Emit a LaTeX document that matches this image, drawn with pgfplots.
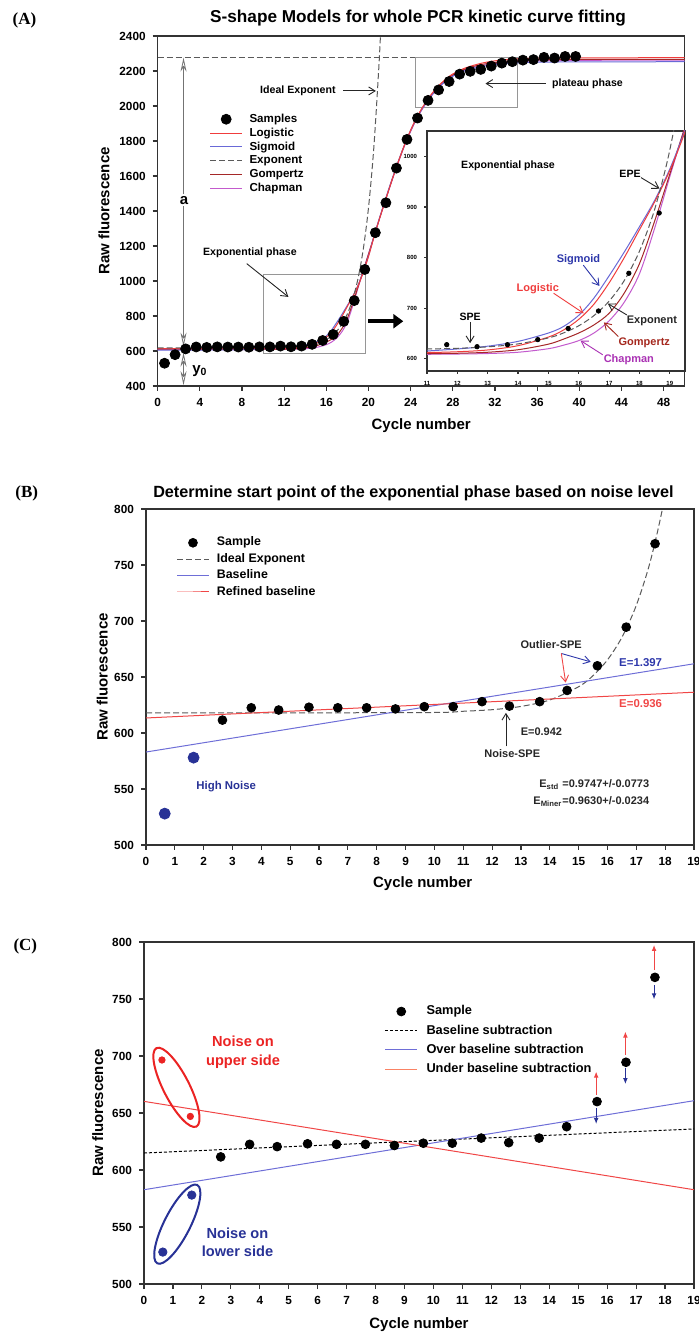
\documentclass[border=0pt]{standalone}
\usepackage{fontspec}
\setmainfont{Liberation Sans}
\newfontfamily\timesfont{Liberation Serif}
\usepackage{pgfplots}
\usepackage{pgfplotstable}
\pgfplotsset{compat=1.18}
\usetikzlibrary{arrows.meta,shapes.geometric}

\definecolor{cLog}{RGB}{240,60,60}
\definecolor{cSig}{RGB}{105,105,215}
\definecolor{cGom}{RGB}{165,40,40}
\definecolor{cCha}{RGB}{195,90,205}
\definecolor{cExp}{RGB}{90,90,90}
\definecolor{navy}{RGB}{40,50,150}
\definecolor{cBlueLine}{RGB}{110,110,215}
\definecolor{cRedLine}{RGB}{240,70,70}
\definecolor{cSalmon}{RGB}{250,130,100}
\definecolor{cRedText}{RGB}{235,35,35}
\definecolor{cBox}{RGB}{150,150,150}
\definecolor{cSigText}{RGB}{45,55,170}
\definecolor{cGomText}{RGB}{165,40,30}
\definecolor{cChaText}{RGB}{170,50,180}

\newcommand{\fs}[1]{\fontsize{#1}{#1}\selectfont}

\pgfplotstableread{
x y
0.65 530
1.65 579
2.65 612
3.65 623
4.65 620.5
5.65 623.5
6.65 622.5
7.65 622.5
8.65 621.5
9.65 623.5
10.65 623.5
11.65 628
12.65 624
13.65 628
14.65 638
15.65 660
16.65 694.5
17.65 769
18.65 888
19.65 1066
20.65 1276
21.65 1447
22.65 1645
23.65 1809
24.65 1931
25.65 2032
26.65 2092
27.65 2140
28.65 2182
29.65 2198
30.65 2209
31.65 2228
32.65 2245
33.65 2253
34.65 2262
35.65 2265
36.65 2278
37.65 2274
38.65 2283
39.65 2283
}\samplesA

\pgfplotstableread{
x y
0 613
4 613
8 613
10 613
11 612.5
12 614
13 617.5
14 626
15 643
15.5 657
16 678
16.5 708
17 750
17.5 800
18 855
18.5 910
19 972
19.5 1048
20 1140
20.5 1246
21 1348
21.5 1442
22 1535
22.5 1625
23 1710
23.5 1790
24 1862
24.5 1925
25 1980
25.5 2028
26 2070
26.5 2106
27 2136
27.5 2162
28 2183
29 2213
30 2233
31 2248
32 2258
33 2265
34 2269
36 2273
40 2275
50 2276
}\logistic

\pgfplotstableread{
x y
0 605
4 605.5
8 607.5
10 612
11 615.5
12 619.5
13 625
14 634.5
15 651
15.5 664
16 686
16.5 720
17 764
17.5 811
18 861
18.5 913
19 975
19.5 1052
20 1143
20.5 1250
21 1352
21.5 1447
22 1540
22.5 1628
23 1712
23.5 1790
24 1860
24.5 1922
25 1975
25.5 2022
26 2062
26.5 2097
27 2126
27.5 2150
28 2170
29 2198
30 2216
31 2228
32 2236
33 2242
34 2246
36 2250
40 2252
50 2253
}\sigmoid

\pgfplotstableread{
x y
0 610
4 610
8 610
10 610
11 610.3
12 611
13 613
14 618
15 629
15.5 639
16 651
16.5 667
17 690
17.5 730
18 788
18.5 872
19 965
19.5 1058
20 1153
20.5 1250
21 1348
21.5 1442
22 1535
22.5 1625
23 1710
23.5 1790
24 1860
24.5 1923
25 1977
25.5 2024
26 2065
26.5 2100
27 2130
27.5 2156
28 2177
29 2207
30 2227
31 2240
32 2249
33 2256
34 2260
36 2264
40 2266
50 2267
}\gompertz

\pgfplotstableread{
x y
0 608
4 608
8 608
10 608.5
11 609
12 609.5
13 610.5
14 613
15 620
15.5 627
16 636
16.5 651
17 675
17.5 712
18 768
18.5 858
19 960
19.5 1058
20 1154
20.5 1251
21 1348
21.5 1441
22 1533
22.5 1622
23 1706
23.5 1785
24 1855
24.5 1918
25 1972
25.5 2019
26 2060
26.5 2095
27 2125
27.5 2151
28 2172
29 2202
30 2221
31 2234
32 2243
33 2250
34 2254
36 2258
40 2261
50 2262
}\chapman

\pgfplotstableread{
x y
0 618
5 618
10 618.3
11 619.4
12 620.8
13 623.7
14 629.5
15 641.3
15.5 651.2
16 665.3
16.5 685.4
17 714
17.5 754.7
18 812.6
18.5 895.2
19 1012.7
19.5 1180
20 1418
20.5 1758
21 2241
21.25 2555
}\exponent

\pgfplotstableread{
x y
2.65 611.5
3.65 622.5
4.6 620.5
5.65 623
6.65 622.5
7.65 622.5
8.65 621.5
9.65 623.5
10.65 623.5
11.65 628
12.6 624
13.65 628
14.6 638
15.65 660
16.65 694.5
17.65 769
}\samplesB

\pgfplotstableread{
x y
0.65 528
1.65 578
}\noiseLow

\pgfplotstableread{
x y
0.62 696.5
1.6 647
}\noiseHigh

\tikzset{barb/.style={line width=0.45pt, -{Straight Barb[length=3.2pt,width=4pt]}}}

\pgfplotsset{
  myaxis/.style={
    scale only axis,
    anchor=south west,
    axis line style={black!80, line width=0.7pt},
    tick style={black!80, line width=0.6pt},
    tick align=outside,
    major tick length=2.5pt,
    xtick pos=bottom, ytick pos=left,
    /pgf/number format/assume math mode=true,
    /pgf/number format/1000 sep={},
    scaled ticks=false,
    ticklabel style={font=\bfseries\fs{5.9}},
    label style={font=\bfseries\fs{7.5}},
    title style={font=\bfseries\fs{8.1}, anchor=center, yshift=-6pt},
    legend cell align=left,
    legend image code/.code={\path (0cm,0cm) (0.66cm,0cm); \draw[mark repeat=2,mark phase=2,##1] plot coordinates {(0cm,0cm) (0.28cm,0cm) (0.56cm,0cm)};},
  },
}

\begin{document}
\begin{tikzpicture}
\path[use as bounding box] (0pt,0pt) rectangle (349.5pt,667pt);
\node[font=\timesfont\bfseries\fs{8.5}] at (12.25pt,657pt) {(A)};
\node[font=\timesfont\bfseries\fs{8.5}] at (13.4pt,420.5pt) {(B)};
\node[font=\timesfont\bfseries\fs{8.5}] at (12.65pt,194pt) {(C)};

% ---------------- Panel A main
\begin{axis}[myaxis, at={(78.85pt,474pt)}, width=263.5pt, height=175pt,
  xmin=0, xmax=50, ymin=400, ymax=2400,
  xtick={0,4,...,48}, ytick={400,600,...,2400},
  xlabel={Cycle number}, ylabel={Raw fluorescence},
  xlabel style={at={(axis description cs:0.5,-0.114)}, anchor=center},
  ylabel style={at={(axis description cs:-0.102,0.5)}, anchor=center},
  title={S-shape Models for whole PCR kinetic curve fitting},
  title style={at={(axis description cs:0.494,1.051)}, font=\bfseries\fs{8.6}},
  legend style={at={(axis description cs:0.098,0.783)}, anchor=north west, draw=none, fill=none, inner sep=0pt,
    font=\bfseries\fs{5.8}, row sep=0pt, nodes={inner sep=0.6pt, text height=4.5pt, text depth=1.2pt}},
]
\addlegendimage{only marks, mark=*, mark size=2.5pt, black}
\addlegendentry{Samples}
\addlegendimage{cLog, line width=0.5pt}
\addlegendentry{Logistic}
\addlegendimage{cSig, line width=0.5pt}
\addlegendentry{Sigmoid}
\addlegendimage{cExp, line width=0.5pt, dash pattern=on 3pt off 1.5pt}
\addlegendentry{Exponent}
\addlegendimage{cGom, line width=0.5pt}
\addlegendentry{Gompertz}
\addlegendimage{cCha, line width=0.5pt}
\addlegendentry{Chapman}

\draw[cExp, line width=0.5pt, dash pattern=on 3pt off 1.5pt] (axis cs:0,2276) -- (axis cs:24.5,2276);
\draw[cBox, line width=0.5pt] (axis cs:10.07,585) rectangle (axis cs:19.75,1036);
\draw[cBox, line width=0.5pt] (axis cs:24.5,1990) rectangle (axis cs:34.1,2276);

\addplot[cCha, line width=0.5pt, smooth, forget plot] table {\chapman};
\addplot[cGom, line width=0.5pt, smooth, forget plot] table {\gompertz};
\addplot[cSig, line width=0.5pt, smooth, forget plot] table {\sigmoid};
\addplot[cLog, line width=0.5pt, smooth, forget plot] table {\logistic};
\addplot[cExp, line width=0.5pt, smooth, dash pattern=on 3pt off 1.5pt, forget plot] table {\exponent};
\addplot[only marks, mark=*, mark size=2.5pt, black, forget plot] table {\samplesA};

\draw[black!55, line width=0.4pt, {Stealth[open,length=7pt,width=3pt]}-{Stealth[open,length=7pt,width=3pt]}] (axis cs:2.45,2276) -- (axis cs:2.45,625);
\node[fill=white, inner sep=1pt, font=\bfseries\fs{7.5}] at (axis cs:2.5,1461) {a};
\draw[black!55, line width=0.4pt, {Stealth[open,length=7pt,width=3pt]}-{Stealth[open,length=7pt,width=3pt]}] (axis cs:2.45,590) -- (axis cs:2.45,405);
\node[font=\bfseries\fs{7.5}] at (axis cs:4.0,487) {y\textsubscript{0}};

\node[font=\bfseries\fs{5.3}, anchor=east] at (axis cs:17.55,2086) {Ideal Exponent};
\draw[black!85, barb] (axis cs:17.6,2086) -- (axis cs:20.7,2086);
\node[font=\bfseries\fs{5.3}, anchor=west] at (axis cs:36.75,2128) {plateau phase};
\draw[black!85, barb] (axis cs:36.8,2128) -- (axis cs:31.1,2128);
\node[font=\bfseries\fs{5.3}] at (axis cs:8.75,1162) {Exponential phase};
\draw[black!85, barb] (axis cs:8.45,1099) -- (axis cs:12.4,909);
\draw[black, line width=2.2pt, -{Triangle[length=5pt,width=7pt]}] (axis cs:20.0,770) -- (axis cs:23.3,770);
\end{axis}

% ---------------- Panel A inset
\begin{axis}[myaxis, at={(213.5pt,481.5pt)}, width=129pt, height=120pt,
  xmin=11, xmax=19.5, ymin=576, ymax=1050,
  xtick={11,...,19}, ytick={600,700,...,1000},
  ticklabel style={font=\bfseries\fs{3}},
  major tick length=1.5pt,
  axis line style={black!80, line width=0.6pt},
  axis background/.style={fill=white},
]
\addplot[cCha, line width=0.5pt, smooth] table {\chapman};
\addplot[cGom, line width=0.5pt, smooth] table {\gompertz};
\addplot[cSig, line width=0.5pt, smooth] table {\sigmoid};
\addplot[cLog, line width=0.5pt, smooth] table {\logistic};
\addplot[cExp, line width=0.5pt, smooth, dash pattern=on 3pt off 1.5pt] table {\exponent};
\addplot[only marks, mark=*, mark size=1.1pt, black, restrict x to domain=11:19.2] table {\samplesA};

\node[font=\bfseries\fs{5.3}] at (axis cs:13.67,981) {Exponential phase};
\node[font=\bfseries\fs{5.3}] at (axis cs:17.69,964.7) {EPE};
\draw[black!85, barb] (axis cs:18.05,958) -- (axis cs:18.66,936);
\node[font=\bfseries\fs{5.3}] at (axis cs:12.42,683.6) {SPE};
\draw[black!85, barb] (axis cs:12.42,673) -- (axis cs:12.42,631);
\node[cSigText, font=\bfseries\fs{5.5}] at (axis cs:15.99,795.4) {Sigmoid};
\draw[cSigText, barb] (axis cs:16.15,785) -- (axis cs:16.68,744);
\node[cLog, font=\bfseries\fs{5.5}] at (axis cs:14.65,738) {Logistic};
\draw[cLog, barb] (axis cs:15.17,729.6) -- (axis cs:16.16,690);
\node[black!85, font=\bfseries\fs{5.5}] at (axis cs:18.41,675) {Exponent};
\draw[black!85, barb] (axis cs:17.58,686.8) -- (axis cs:16.96,709);
\node[cGomText, font=\bfseries\fs{5.5}] at (axis cs:18.16,631) {Gompertz};
\draw[cGomText, barb] (axis cs:17.3,644) -- (axis cs:16.83,672);
\node[cChaText, font=\bfseries\fs{5.5}] at (axis cs:17.65,598) {Chapman};
\draw[cChaText, barb] (axis cs:16.79,608) -- (axis cs:16.06,636);
\end{axis}

% ---------------- Panel B
\begin{axis}[myaxis, at={(73pt,244.5pt)}, width=274pt, height=168pt,
  xmin=0, xmax=19, ymin=500, ymax=800,
  xtick={0,...,19}, ytick={500,550,...,800},
  xlabel={Cycle number}, ylabel={Raw fluorescence},
  xlabel style={at={(axis description cs:0.505,-0.116)}, anchor=center},
  ylabel style={at={(axis description cs:-0.080,0.5)}, anchor=center},
  title={Determine start point of the exponential phase based on noise level},
  title style={at={(axis description cs:0.488,1.048)}},
  legend style={at={(axis description cs:0.055,0.925)}, anchor=north west, draw=none, fill=none, inner sep=0pt,
    font=\bfseries\fs{6.2}, row sep=0pt, nodes={inner sep=0.9pt, text height=4.8pt, text depth=1.6pt}},
]
\addlegendimage{only marks, mark=*, mark size=2.2pt, black}
\addlegendentry{Sample}
\addlegendimage{cExp, line width=0.5pt, dash pattern=on 3pt off 1.5pt}
\addlegendentry{Ideal Exponent}
\addlegendimage{cBlueLine, line width=0.5pt}
\addlegendentry{Baseline}
\addlegendimage{cRedLine, line width=0.5pt}
\addlegendentry{Refined baseline}

\addplot[cExp, line width=0.5pt, smooth, dash pattern=on 3pt off 1.5pt, forget plot] table {\exponent};
\addplot[cBlueLine, line width=0.5pt, forget plot] coordinates {(0,583) (19,661.8)};
\addplot[cRedLine, line width=0.5pt, forget plot] coordinates {(0,613.4) (19,636.4)};
\addplot[only marks, mark=*, mark size=2.2pt, black, forget plot] table {\samplesB};
\addplot[only marks, mark=*, mark size=2.75pt, navy, forget plot] table {\noiseLow};

\node[navy, font=\bfseries\fs{5.7}] at (axis cs:2.78,552) {High Noise};
\node[black!85, font=\bfseries\fs{5.5}] at (axis cs:14.05,679) {Outlier-SPE};
\draw[cSigText, barb] (axis cs:14.4,671) -- (axis cs:15.42,663.5);
\draw[cRedLine, barb] (axis cs:14.4,671) -- (axis cs:14.55,645);
\node[cSigText, font=\bfseries\fs{5.7}] at (axis cs:17.15,663) {E=1.397};
\node[cRedLine, font=\bfseries\fs{5.7}] at (axis cs:17.15,626) {E=0.936};
\node[black!85, font=\bfseries\fs{5.5}, anchor=west] at (axis cs:12.75,601.5) {E=0.942};
\node[black!85, font=\bfseries\fs{5.5}] at (axis cs:12.7,581.5) {Noise-SPE};
\draw[black!85, barb] (axis cs:12.48,588) -- (axis cs:12.48,618);
\node[black!85, font=\bfseries\fs{5.5}, anchor=east, inner sep=0pt] at (axis cs:17.46,553.7) {E\textsubscript{std} =0.9747+/-0.0773};
\node[black!85, font=\bfseries\fs{5.5}, anchor=east, inner sep=0pt] at (axis cs:17.46,538.8) {E\textsubscript{Miner}=0.9630+/-0.0234};
\end{axis}

% ---------------- Panel C
\begin{axis}[myaxis, at={(72pt,25pt)}, width=275pt, height=171pt,
  xmin=0, xmax=19, ymin=500, ymax=800,
  xtick={0,...,19}, ytick={500,550,...,800},
  xlabel={Cycle number}, ylabel={Raw fluorescence},
  xlabel style={at={(axis description cs:0.5,-0.12)}, anchor=center},
  ylabel style={at={(axis description cs:-0.084,0.5)}, anchor=center},
  legend style={at={(axis description cs:0.437,0.826)}, anchor=north west, draw=none, fill=none, inner sep=0pt,
    font=\bfseries\fs{6.4}, row sep=0pt, nodes={inner sep=1.5pt, text height=5.0pt, text depth=1.6pt}},
]
\addlegendimage{only marks, mark=*, mark size=2.2pt, black}
\addlegendentry{Sample}
\addlegendimage{black, line width=0.5pt, dash pattern=on 1.5pt off 1pt}
\addlegendentry{Baseline subtraction}
\addlegendimage{cBlueLine, line width=0.5pt}
\addlegendentry{Over baseline subtraction}
\addlegendimage{cSalmon, line width=0.6pt}
\addlegendentry{Under baseline subtraction}

\addplot[black, line width=0.5pt, dash pattern=on 1.5pt off 1pt, forget plot] coordinates {(0,614.9) (19,636)};
\addplot[cBlueLine, line width=0.5pt, forget plot] coordinates {(0,582.7) (19,660.8)};
\addplot[cRedLine, line width=0.5pt, forget plot] coordinates {(0,660.2) (19,582.7)};
\addplot[only marks, mark=*, mark size=2.2pt, black, forget plot] table {\samplesB};
\addplot[only marks, mark=*, mark size=2.1pt, navy, forget plot] table {\noiseLow};
\addplot[only marks, mark=*, mark size=1.6pt, cRedText, forget plot] table {\noiseHigh};

\node[draw=cRedText, line width=1pt, ellipse, inner sep=0pt, minimum width=44pt, minimum height=13pt, rotate=-63] at (axis cs:1.12,672.5) {};
\node[draw=navy, line width=1pt, ellipse, inner sep=0pt, minimum width=44pt, minimum height=13pt, rotate=63] at (axis cs:1.15,552.5) {};
\node[cRedText, font=\bfseries\fontsize{7.3}{9.3}\selectfont, align=center] at (axis cs:3.42,703.5) {Noise on\\upper side};
\node[navy, font=\bfseries\fontsize{7.3}{9.3}\selectfont, align=center] at (axis cs:3.23,536.7) {Noise on\\lower side};

\draw[cRedLine, line width=0.5pt, -{Latex[length=3pt,width=2.4pt]}] (axis cs:17.62,775.4) -- (axis cs:17.62,797.4);
\draw[cRedLine, line width=0.5pt, -{Latex[length=3pt,width=2.4pt]}] (axis cs:16.63,700.9) -- (axis cs:16.63,721.4);
\draw[cRedLine, line width=0.5pt, -{Latex[length=3pt,width=2.4pt]}] (axis cs:15.62,665.8) -- (axis cs:15.62,686.3);
\draw[navy, line width=0.5pt, -{Latex[length=3pt,width=2.4pt]}] (axis cs:17.62,762) -- (axis cs:17.62,749.7);
\draw[navy, line width=0.5pt, -{Latex[length=3pt,width=2.4pt]}] (axis cs:16.63,689.2) -- (axis cs:16.63,675.4);
\draw[navy, line width=0.5pt, -{Latex[length=3pt,width=2.4pt]}] (axis cs:15.62,654) -- (axis cs:15.62,640.4);
\end{axis}
\end{tikzpicture}
\end{document}
